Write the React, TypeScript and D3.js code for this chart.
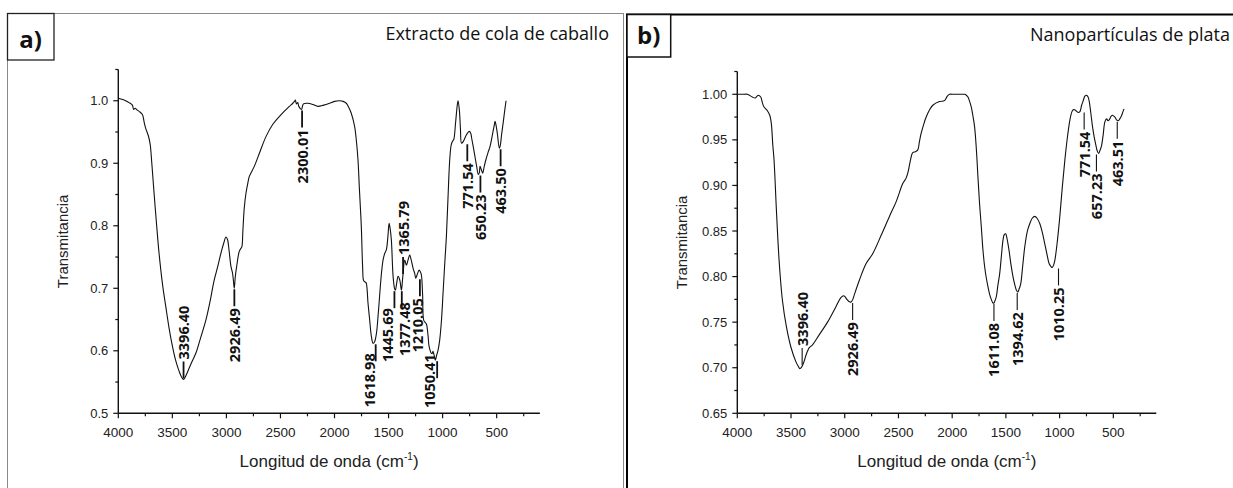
import React from 'react';
import * as d3 from 'd3';

// FTIR spectrum of the horsetail extract (panel a)
const waveA = [
  4000, 3960, 3932, 3900, 3870, 3858, 3845, 3824, 3800, 3777, 3760, 3745, 3722, 3705, 3690, 3669, 3645, 3623, 3590,
  3561, 3530, 3499, 3470, 3437, 3415, 3396, 3375, 3350, 3320, 3283, 3240, 3190, 3150, 3113, 3080, 3051, 3025, 3004,
  2990, 2975, 2958, 2943, 2935, 2927, 2918, 2905, 2881, 2865, 2856, 2848, 2835, 2819, 2800, 2788, 2742, 2695, 2633,
  2572, 2494, 2417, 2386, 2370, 2362, 2352, 2340, 2330, 2306, 2295, 2287, 2247, 2200, 2154, 2100, 2046, 2000, 1953,
  1920, 1891, 1870, 1845, 1814, 1800, 1783, 1770, 1752, 1740, 1730, 1715, 1706, 1690, 1675, 1659, 1643, 1630, 1612,
  1595, 1581, 1565, 1551, 1535, 1520, 1505, 1495, 1485, 1474, 1458, 1445, 1437, 1425, 1412, 1396, 1381, 1370, 1350,
  1335, 1320, 1304, 1290, 1270, 1258, 1249, 1235, 1217, 1205, 1196, 1185, 1175, 1160, 1150, 1135, 1125, 1104, 1095,
  1089, 1075, 1067, 1055, 1042, 1027, 1010, 996, 980, 965, 950, 934, 920, 909, 897, 880, 865, 857, 845, 835, 825,
  808, 778, 753, 740, 731, 715, 701, 685, 670, 660, 654, 642, 630, 615, 599, 580, 561, 540, 520, 515, 505, 494, 475,
  465, 455, 438, 425, 413,
];
const transA = [
  1.004, 1.002, 1.0, 0.997, 0.993, 0.986, 0.988, 0.985, 0.982, 0.978, 0.965, 0.955, 0.944, 0.93, 0.9, 0.852, 0.8,
  0.756, 0.705, 0.671, 0.636, 0.607, 0.585, 0.567, 0.558, 0.554, 0.56, 0.57, 0.582, 0.596, 0.62, 0.649, 0.68, 0.713,
  0.735, 0.756, 0.772, 0.782, 0.778, 0.76, 0.735, 0.724, 0.712, 0.7, 0.718, 0.735, 0.759, 0.764, 0.767, 0.79, 0.828,
  0.852, 0.87, 0.879, 0.895, 0.916, 0.943, 0.962, 0.978, 0.991, 0.996, 0.999, 1.001, 0.995, 0.997, 0.991, 0.986,
  0.992, 0.995, 0.996, 0.994, 0.991, 0.993, 0.996, 0.999, 1.0, 0.999, 0.996, 0.99, 0.98, 0.959, 0.94, 0.906, 0.86,
  0.799, 0.735, 0.712, 0.71, 0.708, 0.676, 0.65, 0.623, 0.612, 0.614, 0.628, 0.66, 0.692, 0.725, 0.745, 0.756,
  0.762, 0.785, 0.804, 0.795, 0.777, 0.719, 0.7, 0.697, 0.708, 0.719, 0.713, 0.697, 0.715, 0.745, 0.737, 0.745,
  0.753, 0.745, 0.73, 0.724, 0.716, 0.722, 0.729, 0.726, 0.721, 0.69, 0.649, 0.645, 0.643, 0.625, 0.607, 0.596,
  0.596, 0.599, 0.59, 0.585, 0.593, 0.601, 0.617, 0.65, 0.692, 0.74, 0.783, 0.845, 0.906, 0.93, 0.935, 0.938,
  0.965, 0.992, 1.0, 0.985, 0.955, 0.932, 0.935, 0.946, 0.951, 0.948, 0.94, 0.925, 0.911, 0.895, 0.882, 0.885,
  0.895, 0.89, 0.884, 0.895, 0.906, 0.917, 0.927, 0.945, 0.963, 0.967, 0.96, 0.948, 0.924, 0.93, 0.945, 0.967,
  0.985, 1.0,
];
// Marked bands: wavenumber and transmittance at the band bottom
const peaksA = [3396.4, 2926.49, 2300.01, 1618.98, 1445.69, 1377.48, 1365.79, 1210.05, 1050.41, 771.54, 650.23, 463.5];
const peakDepthA = [0.554, 0.7, 0.986, 0.612, 0.697, 0.697, 0.74, 0.716, 0.585, 0.932, 0.882, 0.924];
const peaksAAbove = [3396.4, 1365.79];

// FTIR spectrum of the silver nanoparticles (panel b)
const waveB = [
  4000, 3950, 3907, 3860, 3835, 3815, 3804, 3782, 3765, 3751, 3720, 3698, 3688, 3680, 3670, 3658, 3636, 3611, 3580,
  3543, 3502, 3456, 3430, 3418, 3400, 3378, 3360, 3347, 3330, 3300, 3238, 3160, 3082, 3036, 3010, 2998, 2980, 2964,
  2942, 2925, 2911, 2864, 2802, 2740, 2662, 2584, 2522, 2460, 2429, 2410, 2398, 2380, 2367, 2342, 2320, 2305, 2289,
  2265, 2242, 2210, 2180, 2118, 2071, 2045, 2024, 1990, 1962, 1920, 1884, 1868, 1853, 1840, 1822, 1808, 1791, 1775,
  1760, 1745, 1729, 1714, 1698, 1683, 1667, 1650, 1636, 1620, 1611, 1600, 1589, 1575, 1558, 1540, 1527, 1515, 1502,
  1490, 1471, 1455, 1434, 1415, 1402, 1390, 1378, 1362, 1345, 1324, 1300, 1278, 1255, 1231, 1210, 1184, 1160, 1138,
  1115, 1097, 1080, 1069, 1055, 1044, 1020, 998, 975, 951, 925, 904, 885, 873, 860, 848, 825, 811, 795, 780, 765,
  749, 735, 724, 710, 693, 678, 662, 650, 637, 625, 609, 595, 578, 562, 550, 538, 520, 507, 495, 485, 470, 453, 440,
  422, 410, 400,
];
const transB = [
  1.0, 1.0, 1.0, 0.997, 0.996, 0.998, 0.999, 0.997, 0.99, 0.986, 0.982, 0.977, 0.972, 0.964, 0.945, 0.928, 0.873,
  0.818, 0.774, 0.745, 0.723, 0.707, 0.701, 0.699, 0.701, 0.707, 0.714, 0.718, 0.722, 0.725, 0.736, 0.75, 0.767,
  0.777, 0.779, 0.778, 0.775, 0.773, 0.772, 0.775, 0.78, 0.796, 0.814, 0.825, 0.845, 0.866, 0.882, 0.902, 0.908,
  0.915, 0.922, 0.932, 0.936, 0.937, 0.939, 0.948, 0.957, 0.967, 0.975, 0.983, 0.988, 0.992, 0.993, 0.998, 1.0, 1.0,
  1.0, 1.0, 1.0, 0.999, 0.997, 0.993, 0.986, 0.977, 0.964, 0.94, 0.909, 0.88, 0.855, 0.83, 0.811, 0.799, 0.789,
  0.78, 0.775, 0.771, 0.771, 0.774, 0.778, 0.79, 0.803, 0.825, 0.84, 0.846, 0.847, 0.842, 0.829, 0.815, 0.8, 0.79,
  0.785, 0.783, 0.786, 0.792, 0.81, 0.833, 0.85, 0.858, 0.864, 0.866, 0.864, 0.858, 0.848, 0.836, 0.823, 0.814,
  0.811, 0.81, 0.813, 0.818, 0.84, 0.866, 0.898, 0.928, 0.955, 0.972, 0.981, 0.983, 0.983, 0.982, 0.98, 0.981,
  0.988, 0.993, 0.998, 0.999, 0.997, 0.992, 0.98, 0.964, 0.953, 0.944, 0.938, 0.935, 0.938, 0.944, 0.955, 0.97,
  0.973, 0.971, 0.972, 0.976, 0.977, 0.976, 0.975, 0.972, 0.971, 0.973, 0.977, 0.981, 0.984,
];
const peaksB = [3396.4, 2926.49, 1611.08, 1394.62, 1010.25, 771.54, 657.23, 463.51];
const peakDepthB = [0.699, 0.772, 0.771, 0.783, 0.81, 0.981, 0.935, 0.971];
const peaksBAbove = [3396.4];

// Axis ticks
const xTicksMajor = [4000, 3500, 3000, 2500, 2000, 1500, 1000, 500];
const xTicksMinor = [3750, 3250, 2750, 2250, 1750, 1250, 750, 250];
const yTicksMajorA = [0.5, 0.6, 0.7, 0.8, 0.9, 1.0];
const yTicksMinorA = [0.55, 0.65, 0.75, 0.85, 0.95, 1.05];
const yTicksMajorB = [0.65, 0.7, 0.75, 0.8, 0.85, 0.9, 0.95, 1.0];
const yTicksMinorB = [0.675, 0.725, 0.775, 0.825, 0.875, 0.925, 0.975, 1.025];

// Text nudges (px) for crowded band labels: [dx, dy]
const labelNudge: Record<string, [number, number]> = {
  'a1618.98': [-6, -10],
  'a1445.69': [-6.5, -2],
  'a1377.48': [2.5, -8],
  'a1210.05': [-2, 0],
  'a1050.41': [-8, -26],
};

const TICK_FONT = '"Liberation Sans", Arial, sans-serif';
const LABEL_FONT = '"Open Sans", "Noto Sans", sans-serif';

function interpolateAt(waves: number[], values: number[], w: number): number {
  for (let i = 0; i < waves.length - 1; i++) {
    const a = waves[i];
    const b = waves[i + 1];
    if ((w <= a && w >= b) || (w >= a && w <= b)) {
      const t = (w - a) / (b - a);
      return values[i] + t * (values[i + 1] - values[i]);
    }
  }
  return values[values.length - 1];
}

type PanelProps = {
  id: string;
  waves: number[];
  values: number[];
  peaks: number[];
  depths: number[];
  peaksAbove: number[];
  xRange: [number, number];
  yDomain: [number, number];
  yRange: [number, number];
  yMajor: number[];
  yMinor: number[];
  yFormat: string;
  yTitleX: number;
  leaderWidth: number;
};

function Spectrum(p: PanelProps) {
  const x = d3.scaleLinear().domain([4000, 100]).range(p.xRange);
  const y = d3.scaleLinear().domain(p.yDomain).range(p.yRange);
  const line = d3
    .line<number>()
    .x((_, i) => x(p.waves[i]))
    .y((v) => y(v))
    .curve(d3.curveCatmullRom.alpha(0.5));
  const x0 = p.xRange[0];
  const yBase = p.yRange[0];
  const fmt = d3.format(p.yFormat);
  const axisColor = '#111';
  const xMid = (p.xRange[0] + p.xRange[1]) / 2;
  const yMid = (p.yRange[0] + p.yRange[1]) / 2;

  return (
    <g>
      {/* axes */}
      <line x1={x0} x2={x0} y1={p.yRange[1]} y2={yBase} stroke={axisColor} strokeWidth={1.4} />
      <line x1={x0} x2={p.xRange[1]} y1={yBase} y2={yBase} stroke={axisColor} strokeWidth={1.4} />
      {p.yMajor.map((t) => (
        <g key={'ym' + t}>
          <line x1={x0 - 5} x2={x0} y1={y(t)} y2={y(t)} stroke={axisColor} strokeWidth={1.2} />
          <text
            x={x0 - 10}
            y={y(t)}
            textAnchor="end"
            dominantBaseline="central"
            fontFamily={TICK_FONT}
            fontSize={13}
            fill="#222"
          >
            {fmt(t)}
          </text>
        </g>
      ))}
      {p.yMinor.map((t) => (
        <line key={'yn' + t} x1={x0 - 3} x2={x0} y1={y(t)} y2={y(t)} stroke={axisColor} strokeWidth={1.2} />
      ))}
      {xTicksMajor.map((t) => (
        <g key={'xm' + t}>
          <line x1={x(t)} x2={x(t)} y1={yBase} y2={yBase + 5} stroke={axisColor} strokeWidth={1.2} />
          <text x={x(t)} y={yBase + 23.5} textAnchor="middle" fontFamily={TICK_FONT} fontSize={13.5} fill="#222">
            {t}
          </text>
        </g>
      ))}
      {xTicksMinor.map((t) => (
        <line key={'xn' + t} x1={x(t)} x2={x(t)} y1={yBase} y2={yBase + 3} stroke={axisColor} strokeWidth={1.2} />
      ))}
      {/* axis titles */}
      <text
        transform={`translate(${p.yTitleX},${yMid}) rotate(-90)`}
        textAnchor="middle"
        dominantBaseline="central"
        fontFamily={TICK_FONT}
        fontSize={15}
        fill="#222"
      >
        Transmitancia
      </text>
      <text x={xMid} y={467} textAnchor="middle" fontFamily={TICK_FONT} fontSize={17} fill="#222">
        Longitud de onda (cm
        <tspan fontSize={10} dy={-7}>
          -1
        </tspan>
        <tspan dy={7}>)</tspan>
      </text>
      {/* spectrum */}
      <path d={line(p.values) || ''} fill="none" stroke="#111" strokeWidth={1.1} />
      {/* band annotations */}
      {p.peaks.map((w, i) => {
        const px = x(w);
        const onCurve = y(interpolateAt(p.waves, p.values, w));
        const atBand = y(p.depths[i]);
        const above = p.peaksAbove.includes(w);
        const py = above ? onCurve : Math.max(onCurve, atBand);
        const dir = above ? -1 : 1;
        const [dx, dy] = labelNudge[p.id + w.toFixed(2)] || [0, 0];
        const ty = py + dir * 20 + dy;
        return (
          <g key={'pk' + w}>
            <line x1={px} x2={px} y1={py + dir * 1} y2={py + dir * 18} stroke="#111" strokeWidth={p.leaderWidth} />
            <text
              transform={`translate(${px + dx},${ty}) rotate(-90)`}
              textAnchor={above ? 'start' : 'end'}
              dominantBaseline="central"
              fontFamily={LABEL_FONT}
              fontWeight="bold"
              fontSize={14.5}
              fill="#111"
            >
              {w.toFixed(2)}
            </text>
          </g>
        );
      })}
    </g>
  );
}

export default function App() {
  return (
    <svg
      width={1233}
      height={488}
      viewBox="0 0 1233 488"
      style={{ position: 'absolute', left: 0, top: 0, background: '#fff' }}
    >
      <rect x={0} y={0} width={1233} height={488} fill="#fff" />
      {/* panel frames */}
      <rect x={7.5} y={13.5} width={616} height={490} fill="none" stroke="#8a8a8a" strokeWidth={1} />
      <rect x={627} y={14.5} width={620} height={490} fill="none" stroke="#000" strokeWidth={2} />

      {/* panel a */}
      <rect x={7.5} y={13.5} width={46.5} height={46.5} fill="#fff" stroke="#222" strokeWidth={1.3} />
      <text x={30.5} y={48} textAnchor="middle" fontFamily={LABEL_FONT} fontWeight="bold" fontSize={24} fill="#111">
        a)
      </text>
      <text x={609} y={40} textAnchor="end" fontFamily={LABEL_FONT} fontSize={18} fill="#111">
        Extracto de cola de caballo
      </text>
      <Spectrum
        id="a"
        waves={waveA}
        values={transA}
        peaks={peaksA}
        depths={peakDepthA}
        peaksAbove={peaksAAbove}
        xRange={[118.3, 539.9]}
        yDomain={[0.5, 1.05]}
        yRange={[413.3, 69.5]}
        yMajor={yTicksMajorA}
        yMinor={yTicksMinorA}
        yFormat=".1f"
        yTitleX={62}
        leaderWidth={1.8}
      />

      {/* panel b */}
      <rect x={627} y={14.5} width={43.7} height={42.5} fill="#fff" stroke="#111" strokeWidth={1.5} />
      <text x={648.7} y={44} textAnchor="middle" fontFamily={LABEL_FONT} fontWeight="bold" fontSize={24} fill="#111">
        b)
      </text>
      <text x={1230} y={41} textAnchor="end" fontFamily={LABEL_FONT} fontSize={18} fill="#111">
        Nanopartículas de plata
      </text>
      <Spectrum
        id="b"
        waves={waveB}
        values={transB}
        peaks={peaksB}
        depths={peakDepthB}
        peaksAbove={peaksBAbove}
        xRange={[737.3, 1156.3]}
        yDomain={[0.65, 1.025]}
        yRange={[413.3, 71.5]}
        yMajor={yTicksMajorB}
        yMinor={yTicksMinorB}
        yFormat=".2f"
        yTitleX={681}
        leaderWidth={1.1}
      />
    </svg>
  );
}
